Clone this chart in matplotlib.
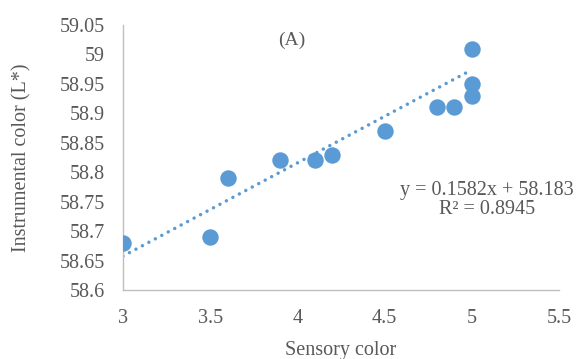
import numpy as np
import matplotlib as mpl
mpl.use('Agg')
import matplotlib.pyplot as plt

plt.rcParams['font.family'] = ['Liberation Serif', 'DejaVu Serif']

# sensory score vs instrumental L*
sensory = [3, 3.5, 3.6, 3.9, 4.1, 4.2, 4.5, 4.8, 4.9, 5, 5, 5]
lstar = [58.68, 58.69, 58.79, 58.82, 58.82, 58.83, 58.87, 58.91, 58.91, 58.93, 58.95, 59.01]

slope, intercept = 0.1582, 58.183
xticks = [3, 3.5, 4, 4.5, 5, 5.5]
yticks = [58.6, 58.65, 58.7, 58.75, 58.8, 58.85, 58.9, 58.95, 59, 59.05]

grey = '#595959'
blue = '#5b9bd5'

fig = plt.figure(figsize=(5.81, 3.59), dpi=100)
ax = fig.add_axes([123/581, 1 - 290/359, (559-123)/581, (290-25)/359])

ax.scatter(sensory, lstar, s=140, color=blue, zorder=3, linewidths=0)
xl = np.array([min(sensory), max(sensory)])
ax.plot(xl, slope * xl + intercept, color=blue, lw=2.5, linestyle=(0, (0.01, 2.1)),
        zorder=2, dash_capstyle='round')

ax.set_xlim(3, 5.5)
ax.set_ylim(58.6, 59.05)
ax.set_xticks(xticks)
ax.set_xticklabels([f'{t:g}' for t in xticks])
ax.set_yticks(yticks)
ax.set_yticklabels([f'{t:g}' for t in yticks])
ax.tick_params(length=0, labelsize=14.5, colors=grey)
ax.tick_params(axis='y', pad=13)
ax.tick_params(axis='x', pad=14)

for s in ['top', 'right']:
    ax.spines[s].set_visible(False)
for s in ['left', 'bottom']:
    ax.spines[s].set_color('#bfbfbf')
    ax.spines[s].set_linewidth(1)

ax.set_xlabel('Sensory color', fontsize=14.5, color=grey)
ax.xaxis.set_label_coords(0.5, -(350 - 290) / 265, transform=ax.transAxes)
ax.set_ylabel('Instrumental color (L*)', fontsize=14.5, color=grey)
ax.yaxis.set_label_coords(-(123 - 22) / 436, 0.5, transform=ax.transAxes)
ax.xaxis.label.set_va('center')
ax.yaxis.label.set_va('center')

ax.text(0.388, 0.943, '(A)', transform=ax.transAxes, fontsize=14, color=grey,
        ha='center', va='center')
ax.text(0.835, 0.338, 'y = 0.1582x + 58.183\nR² = 0.8945', transform=ax.transAxes,
        fontsize=14.5, color=grey, ha='center', va='center', linespacing=1.0)

fig.savefig('out.png', dpi=100)
